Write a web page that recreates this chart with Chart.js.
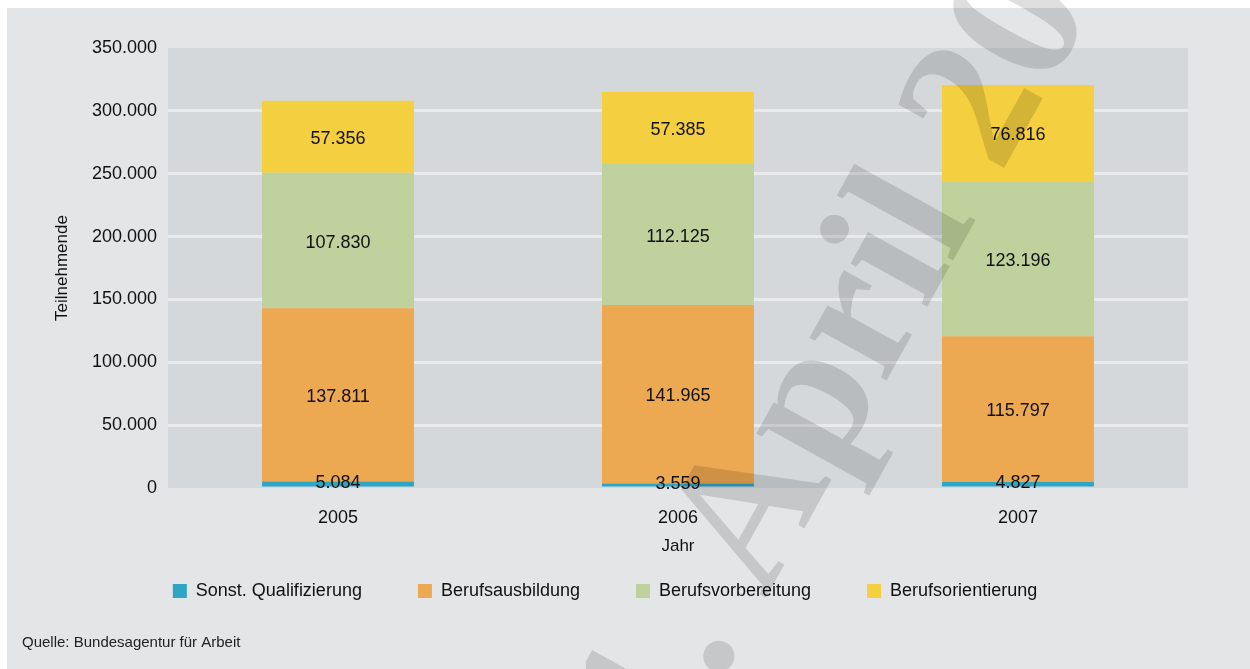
<!DOCTYPE html>
<html lang="de">
<head>
<meta charset="utf-8">
<title>Teilnehmende 2005-2007</title>
<script src="https://cdn.jsdelivr.net/npm/chart.js@4.4.1/dist/chart.umd.min.js"></script>
<style>
    html, body { margin: 0; padding: 0; background: #fff; }
    #wrap { width: 1250px; height: 669px; }
</style>
</head>
<body>
<div id="wrap"><canvas id="teilnehmerChart" width="1250" height="669"></canvas></div>
<script>
/* =========================
   DATA
========================= */
const years = ['2005', '2006', '2007'];

const sonstQualifizierung = [5084, 3559, 4827];
const berufsausbildung    = [137811, 141965, 115797];
const berufsvorbereitung  = [107830, 112125, 123196];
const berufsorientierung  = [57356, 57385, 76816];

const seriesNames = ['Sonst. Qualifizierung', 'Berufsausbildung', 'Berufsvorbereitung', 'Berufsorientierung'];
const yTickValues = [0, 50000, 100000, 150000, 200000, 250000, 300000, 350000];

const sourceNote = 'Quelle: Bundesagentur für Arbeit';
const watermarkText = '1. April 2008';

/* =========================
   STYLE
========================= */
const seriesColors = ['#2fa5c5', '#eda852', '#bfd19c', '#f4cf3f'];
const FONT = '"Liberation Sans", Arial, sans-serif';
const TEXT = '#111111';

// 350000 -> "350.000"
function deNumber(v) {
    return String(v).replace(/\B(?=(\d{3})+(?!\d))/g, '.');
}

/* =========================
   PLUGINS
========================= */
const pageBackground = {
    id: 'pageBackground',
    beforeDraw(chart) {
        const { ctx, chartArea: a } = chart;
        ctx.save();
        ctx.fillStyle = '#ffffff';
        ctx.fillRect(0, 0, chart.width, chart.height);
        ctx.fillStyle = '#e4e5e7';
        ctx.fillRect(7, 8, chart.width - 7, chart.height - 8);
        ctx.fillStyle = '#d5d8db';
        ctx.fillRect(a.left, a.top, a.right - a.left, a.bottom - a.top);
        ctx.restore();
    }
};

const segmentLabels = {
    id: 'segmentLabels',
    afterDatasetsDraw(chart) {
        const ctx = chart.ctx;
        ctx.save();
        ctx.font = '18px ' + FONT;
        ctx.fillStyle = TEXT;
        ctx.textAlign = 'center';
        ctx.textBaseline = 'middle';
        chart.data.datasets.forEach((ds, i) => {
            const meta = chart.getDatasetMeta(i);
            meta.data.forEach((bar, j) => {
                const yMid = (bar.y + bar.base) / 2;
                ctx.fillText(deNumber(ds.data[j]), bar.x, yMid - (i === 0 ? 3 : 0) + 2);
            });
        });
        ctx.restore();
    }
};

const watermark = {
    id: 'watermark',
    afterDraw(chart) {
        const ctx = chart.ctx;
        const size = 192;
        ctx.save();
        ctx.font = 'bold ' + size + 'px "Liberation Serif", "Times New Roman", serif';
        ctx.fillStyle = 'rgba(0, 0, 0, 0.13)';
        ctx.translate(720, 657);
        ctx.rotate(-61 * Math.PI / 180);
        const wLead = ctx.measureText('1.').width;
        const wDot = ctx.measureText('.').width;
        ctx.textAlign = 'left';
        ctx.textBaseline = 'alphabetic';
        ctx.fillText(watermarkText, -(wLead - wDot / 2), size * 0.06);
        ctx.restore();
    }
};

/* =========================
   CHART
========================= */
const allSeries = [sonstQualifizierung, berufsausbildung, berufsvorbereitung, berufsorientierung];

const datasets = allSeries.map((values, i) => ({
    label: seriesNames[i],
    data: values,
    backgroundColor: seriesColors[i],
    borderWidth: 0,
    barPercentage: 0.447,
    categoryPercentage: 1
}));

const ctx = document.getElementById('teilnehmerChart').getContext('2d');

new Chart(ctx, {
    type: 'bar',
    data: { labels: years, datasets: datasets },
    options: {
        responsive: false,
        animation: false,
        devicePixelRatio: 1,
        layout: { padding: { top: 48, right: 62, bottom: 7, left: 22 } },
        plugins: {
            tooltip: { enabled: false },
            legend: {
                position: 'bottom',
                labels: {
                    boxWidth: 14,
                    boxHeight: 14,
                    padding: 56,
                    color: TEXT,
                    font: { family: FONT, size: 18 }
                }
            },
            subtitle: {
                display: true,
                text: sourceNote,
                position: 'bottom',
                align: 'start',
                color: '#222222',
                font: { family: FONT, size: 15, weight: 'normal' },
                padding: { top: 24, bottom: 10 }
            }
        },
        scales: {
            x: {
                stacked: true,
                grid: { display: false },
                border: { display: false },
                ticks: { color: TEXT, padding: 11, font: { family: FONT, size: 18 } },
                title: {
                    display: true,
                    text: 'Jahr',
                    color: TEXT,
                    font: { family: FONT, size: 17 },
                    padding: { top: 0, bottom: -31 }
                },
                afterFit(scale) { scale.height = 38; }
            },
            y: {
                stacked: true,
                min: 0,
                max: 350000,
                border: { display: false },
                grid: {
                    drawTicks: false,
                    lineWidth: 3,
                    color: c => (c.tick && (c.tick.value === 0 || c.tick.value === 350000)) ? 'rgba(0,0,0,0)' : '#e9eaec'
                },
                ticks: {
                    color: TEXT,
                    padding: 11,
                    font: { family: FONT, size: 18 },
                    callback: v => deNumber(v)
                },
                afterBuildTicks(scale) { scale.ticks = yTickValues.map(v => ({ value: v })); },
                title: {
                    display: true,
                    text: 'Teilnehmende',
                    color: TEXT,
                    font: { family: FONT, size: 17 },
                    padding: { top: 30, bottom: 0 }
                },
                afterFit(scale) { scale.width = 146; }
            }
        }
    },
    plugins: [pageBackground, segmentLabels, watermark]
});
</script>
</body>
</html>
